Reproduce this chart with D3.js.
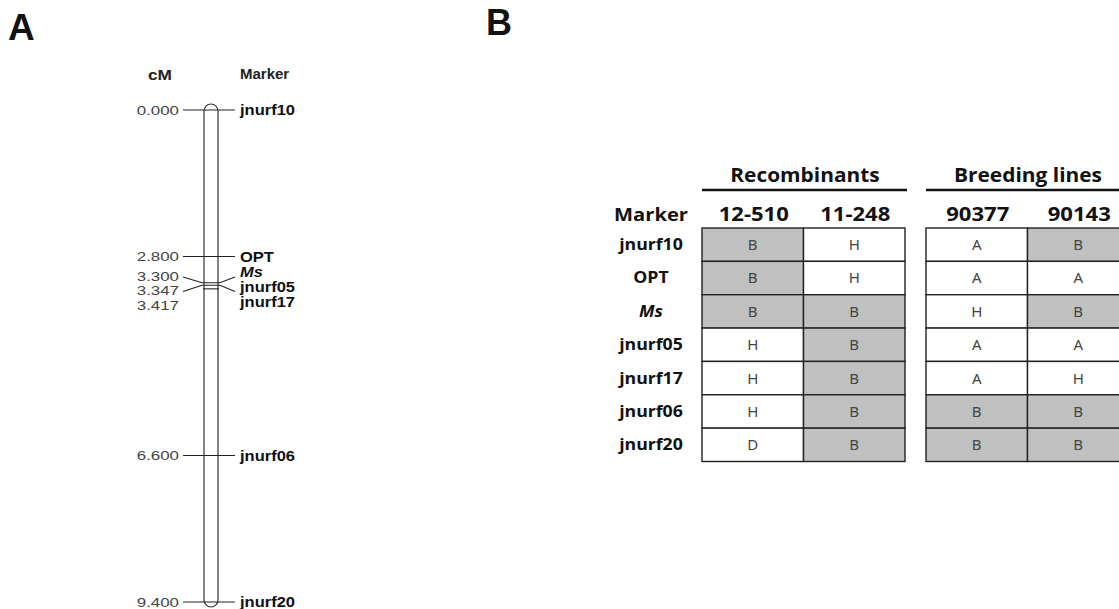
<!DOCTYPE html>
<html>
<head>
<meta charset="utf-8">
<script src="https://cdn.jsdelivr.net/npm/d3@7"></script>
<style>
  html, body { margin: 0; padding: 0; background: #fff; }
  svg { display: block; }
</style>
</head>
<body>
<svg id="chart" width="1119" height="609"></svg>
<script>
// Linkage map markers and their genetic positions (cM)
const markers = ["jnurf10", "OPT", "Ms", "jnurf05", "jnurf17", "jnurf06", "jnurf20"];
const positions = [0.000, 2.800, 3.300, 3.347, 3.417, 6.600, 9.400];
const positionLabels = ["0.000", "2.800", "3.300", "3.347", "3.417", "6.600", "9.400"];

// Genotype calls per line (rows follow `markers`)
const recombinantLines = ["12-510", "11-248"];
const breedingLines = ["90377", "90143"];
const geno_12_510 = ["B", "B", "B", "H", "H", "H", "D"];
const geno_11_248 = ["H", "H", "B", "B", "B", "B", "B"];
const geno_90377 = ["A", "A", "H", "A", "A", "B", "B"];
const geno_90143 = ["B", "A", "B", "A", "H", "B", "B"];

const genotypes = {
  "12-510": geno_12_510,
  "11-248": geno_11_248,
  "90377": geno_90377,
  "90143": geno_90143
};

const svg = d3.select("#chart");

// widen a text element horizontally by a factor, keeping its anchor
function widen(sel, factor) {
  sel.each(function () {
    const len = this.getComputedTextLength();
    d3.select(this).attr("textLength", len * factor).attr("lengthAdjust", "spacingAndGlyphs");
  });
}

const arial = "'Liberation Sans', Arial, sans-serif";

// ---------- Panel A: linkage map ----------
const gA = svg.append("g");
gA.append("text").attr("x", 8).attr("y", 40)
  .attr("font-family", arial)
  .attr("font-weight", "bold").attr("font-size", 37).attr("fill", "#111").text("A");

const y = d3.scaleLinear().domain([0, 9.4]).range([110, 602]);
const chromX0 = 204, chromX1 = 218;

gA.append("text").attr("x", 160).attr("y", 80).attr("text-anchor", "middle")
  .attr("font-family", arial).attr("font-weight", "bold")
  .attr("font-size", 15).attr("fill", "#222").text("cM")
  .call(widen, 1.15);
gA.append("text").attr("x", 240).attr("y", 79)
  .attr("font-family", arial).attr("font-weight", "bold")
  .attr("font-size", 15).attr("fill", "#222").text("Marker");

// chromosome bar
gA.append("rect")
  .attr("x", chromX0).attr("y", y(0) - 6)
  .attr("width", chromX1 - chromX0).attr("height", y(9.4) - y(0) + 11)
  .attr("rx", 7).attr("ry", 7)
  .attr("fill", "none").attr("stroke", "#333").attr("stroke-width", 1.2);

// label offsets for the crowded cluster around the Ms locus
const leftLabelY = positions.map(p => y(p));
const rightLabelY = positions.map(p => y(p));
leftLabelY[2] = 276; leftLabelY[3] = 290.5; leftLabelY[4] = 305;
rightLabelY[2] = 272; rightLabelY[3] = 287; rightLabelY[4] = 302;

const leftLineY = positions.map(p => y(p));
const rightLineY = positions.map(p => y(p));
leftLineY[2] = 277; rightLineY[2] = 277;
leftLineY[3] = 291.5; rightLineY[3] = 291.5;

const line = d3.line();
markers.forEach((m, i) => {
  const yy = y(positions[i]);
  const pts = (i === 4)
    ? [[chromX0 - 1, yy], [chromX1 + 1, yy]]
    : [[183, leftLineY[i]], [chromX0 - 2, yy], [chromX1 + 2, yy], [235, rightLineY[i]]];
  gA.append("path").attr("d", line(pts))
    .attr("fill", "none").attr("stroke", "#222").attr("stroke-width", 1.1);

  gA.append("text").attr("x", 179).attr("y", leftLabelY[i]).attr("dy", "0.35em")
    .attr("text-anchor", "end")
    .attr("font-family", arial).attr("font-size", 13.5)
    .attr("fill", "#444").text(positionLabels[i])
    .call(widen, 1.25);

  gA.append("text").attr("x", 240).attr("y", rightLabelY[i]).attr("dy", "0.35em")
    .attr("font-family", arial).attr("font-size", 15)
    .attr("font-weight", "bold").attr("font-style", m === "Ms" ? "italic" : "normal")
    .attr("fill", "#111").text(m)
    .call(widen, 1.1);
});

// ---------- Panel B: genotype table ----------
const gB = svg.append("g");
gB.append("text").attr("x", 486).attr("y", 35)
  .attr("font-family", arial)
  .attr("font-weight", "bold").attr("font-size", 36).attr("fill", "#111").text("B");

const tableFont = "'Open Sans', 'Noto Sans', sans-serif";
const row = d3.scaleBand().domain(markers).range([228, 461.5]);
const colRec = d3.scaleBand().domain(recombinantLines).range([702, 905]);
const colBreed = d3.scaleBand().domain(breedingLines).range([926, 1129]);

const groups = [
  { title: "Recombinants", lines: recombinantLines, scale: colRec, ruleX: [702, 907], cx: 805 },
  { title: "Breeding lines", lines: breedingLines, scale: colBreed, ruleX: [926, 1131], cx: 1028 }
];

// marker column
gB.append("text").attr("x", 651).attr("y", 221).attr("text-anchor", "middle")
  .attr("font-family", tableFont).attr("font-weight", "bold").attr("font-size", 18.5)
  .attr("fill", "#111").text("Marker")
  .call(widen, 1.09);

gB.selectAll("text.rowlab").data(markers).join("text")
  .attr("class", "rowlab")
  .attr("x", 651).attr("y", d => row(d) + row.bandwidth() / 2).attr("dy", "0.33em")
  .attr("text-anchor", "middle")
  .attr("font-family", tableFont).attr("font-weight", "bold").attr("font-size", 16.5)
  .attr("font-style", d => d === "Ms" ? "italic" : "normal")
  .attr("fill", "#111").text(d => d)
  .call(widen, 1.07);

groups.forEach(g => {
  gB.append("text").attr("x", g.cx).attr("y", 182)
    .attr("text-anchor", "middle")
    .attr("font-family", tableFont).attr("font-weight", "bold").attr("font-size", 19)
    .attr("fill", "#111").text(g.title)
    .call(widen, 1.1);
  gB.append("line").attr("x1", g.ruleX[0]).attr("x2", g.ruleX[1])
    .attr("y1", 190).attr("y2", 190).attr("stroke", "#111").attr("stroke-width", 2.5);

  g.lines.forEach(l => {
    const x0 = g.scale(l), w = g.scale.bandwidth();
    gB.append("text").attr("x", x0 + w / 2 + 1).attr("y", 221).attr("text-anchor", "middle")
      .attr("font-family", tableFont).attr("font-weight", "bold").attr("font-size", 19.5)
      .attr("fill", "#111").text(l)
      .call(widen, 1.13);

    const cells = gB.append("g");
    cells.selectAll("rect").data(markers).join("rect")
      .attr("x", x0).attr("y", d => row(d))
      .attr("width", w).attr("height", row.bandwidth())
      .attr("fill", (d, i) => genotypes[l][i] === "B" ? "#c0c0c0" : "#fff")
      .attr("stroke", "#222").attr("stroke-width", 1.4);
    cells.selectAll("text").data(markers).join("text")
      .attr("x", x0 + w / 2).attr("y", d => row(d) + row.bandwidth() / 2).attr("dy", "0.36em")
      .attr("text-anchor", "middle")
      .attr("font-family", "'Noto Sans', sans-serif").attr("font-size", 15)
      .attr("fill", "#444").text((d, i) => genotypes[l][i]);
  });
});
</script>
</body>
</html>
